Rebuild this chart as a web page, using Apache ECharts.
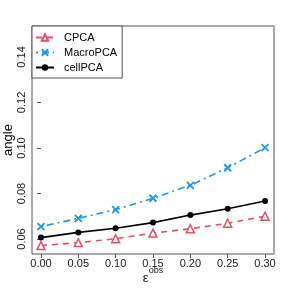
<!DOCTYPE html>
<html><head><meta charset="utf-8">
<script src="https://cdn.jsdelivr.net/npm/echarts@6/dist/echarts.min.js"></script>
<style>html,body{margin:0;padding:0;background:#fff}#c{width:288px;height:288px}</style>
</head><body><div id="c"></div>
<script>
var eps = [0.00, 0.05, 0.10, 0.15, 0.20, 0.25, 0.30];
var cpca = [0.0571, 0.0584, 0.0601, 0.0626, 0.0645, 0.0669, 0.0700];
var macropca = [0.0654, 0.0691, 0.0729, 0.0779, 0.0836, 0.0913, 0.1001];
var cellpca = [0.0606, 0.0629, 0.0647, 0.0672, 0.0705, 0.0733, 0.0767];
var xTicks = [0.00, 0.05, 0.10, 0.15, 0.20, 0.25, 0.30];
var yTicks = [0.06, 0.08, 0.10, 0.12, 0.14];
var names = ['CPCA', 'MacroPCA', 'cellPCA'];

function pairs(ys){ return eps.map(function(x,i){ return [x, ys[i]]; }); }
var FONT = 'Liberation Sans, Arial, sans-serif';
var chart = echarts.init(document.getElementById('c'), null, {renderer:'canvas'});
chart.setOption({
  animation: false,
  textStyle: {fontFamily: FONT},
  grid: {left: 32, top: 26, right: 14, bottom: 34, containLabel: false, outerBoundsMode: 'none',
         show: true, borderColor: '#555', borderWidth: 1, backgroundColor: 'transparent'},
  legend: {
    orient: 'vertical', left: 32, top: 26, itemWidth: 18, itemHeight: 8, itemGap: 4,
    padding: [6, 5, 5, 3], borderColor: '#555', borderWidth: 1, backgroundColor: '#fff',
    textStyle: {fontFamily: FONT, fontSize: 11, color: '#000', padding: [0,0,0,5]},
    data: names
  },
  xAxis: {
    type: 'value', min: -0.012, max: 0.312,
    axisLine: {show: false}, splitLine: {show: false},
    axisTick: {show: true, length: 4, customValues: xTicks, lineStyle: {color: '#555'}},
    axisLabel: {customValues: xTicks, fontSize: 11, color: '#222', margin: 4, formatter: function(v){return v.toFixed(2);}},
    name: '{e|ε}{s|obs}', nameLocation: 'middle', nameGap: 12, nameMoveOverlap: false,
    nameTextStyle: {rich: {e: {fontSize: 13, color: '#222', fontFamily: FONT}, s: {fontSize: 9, color: '#222', fontFamily: FONT, padding: [0,0,15,0]}}}
  },
  yAxis: {
    type: 'value', min: 0.0534, max: 0.1536,
    axisLine: {show: false}, splitLine: {show: false},
    axisTick: {show: true, length: 4, customValues: yTicks, lineStyle: {color: '#555'}},
    axisLabel: {customValues: yTicks, fontSize: 11, color: '#222', rotate: 90, align: 'center', verticalAlign: 'bottom', margin: 5, formatter: function(v){return v.toFixed(2);}},
    name: 'angle', nameLocation: 'middle', nameGap: 17, nameRotate: 90, nameMoveOverlap: false,
    nameTextStyle: {fontSize: 13, color: '#000', fontFamily: FONT}
  },
  series: [
    {name: 'CPCA', type: 'line', data: pairs(cpca), symbol: 'triangle', symbolSize: 8,
     lineStyle: {color: '#DF536B', width: 1.6, type: [6,5]},
     itemStyle: {color: '#fff', borderColor: '#DF536B', borderWidth: 1.5}},
    {name: 'MacroPCA', type: 'line', data: pairs(macropca), symbol: 'path://M0,0L10,10M10,0L0,10', symbolSize: 7,
     lineStyle: {color: '#2297E6', width: 1.6, type: [2,4,7,4]},
     itemStyle: {color: '#2297E6', borderColor: '#2297E6', borderWidth: 1.8}},
    {name: 'cellPCA', type: 'line', data: pairs(cellpca), symbol: 'circle', symbolSize: 6,
     lineStyle: {color: '#000', width: 1.6, type: 'solid'},
     itemStyle: {color: '#000', borderColor: '#000', borderWidth: 0}}
  ]
});
</script></body></html>
